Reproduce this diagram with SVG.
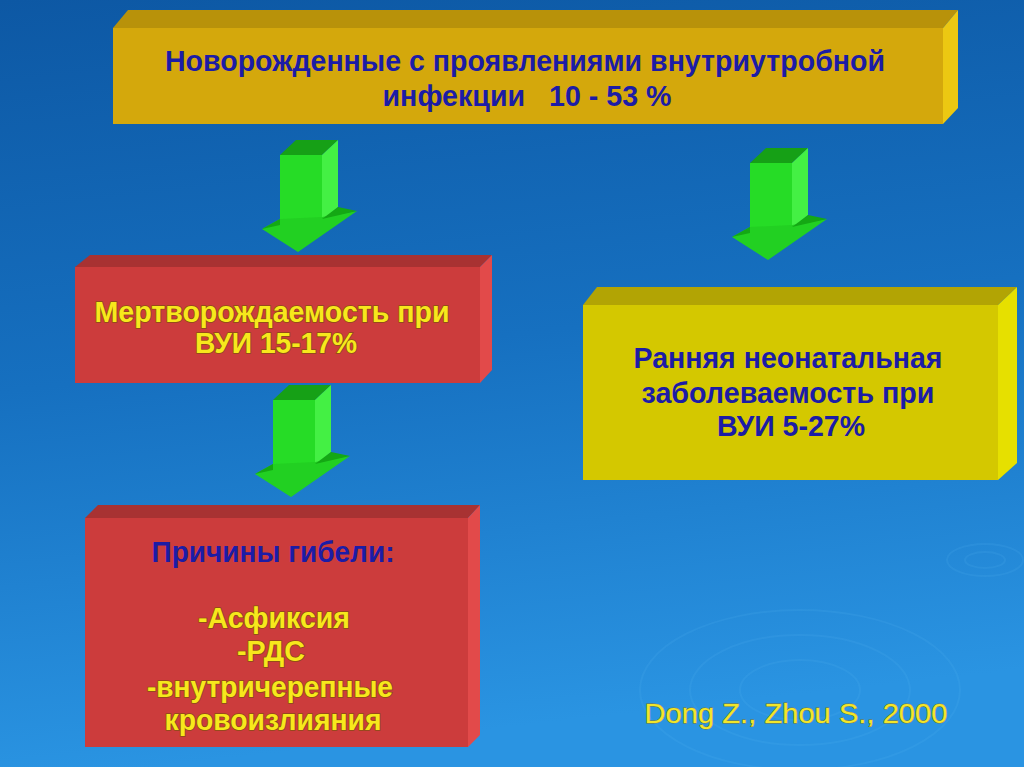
<svg xmlns="http://www.w3.org/2000/svg" width="1024" height="767" viewBox="0 0 1024 767">
<defs>
<linearGradient id="bg" x1="0" y1="0" x2="0.15" y2="1">
<stop offset="0" stop-color="#0d58a4"/>
<stop offset="0.5" stop-color="#1670c0"/>
<stop offset="1" stop-color="#2a94e2"/>
</linearGradient>
<g id="arrow">
<polygon points="0,0 16,-15 58,-15 42,0" fill="#16a016"/>
<polygon points="42,0 58,-15 58,52 42,66" fill="#44f044"/>
<rect x="0" y="0" width="42" height="68" fill="#26dc26"/>
<polygon points="-18,74 0,64 42,62 77,56 18,97" fill="#22d022"/>
<polygon points="-18,74 0,64 0,70" fill="#14a814"/>
<polygon points="42,64 58,52 77,56" fill="#14a814"/>
</g>
</defs>
<style>
.blue{font-family:"Liberation Sans",Arial,sans-serif;font-weight:bold;fill:#1c1ca6;text-anchor:middle;white-space:pre}
.yel{font-family:"Liberation Sans",Arial,sans-serif;font-weight:bold;fill:#f7e81c;stroke:#8c4c12;stroke-width:1.6;paint-order:stroke;text-anchor:middle}
</style>
<rect width="1024" height="767" fill="url(#bg)"/>
<g fill="none" stroke="#5ab4f4" stroke-opacity="0.15" stroke-width="2">
<ellipse cx="985" cy="560" rx="20" ry="8"/>
<ellipse cx="985" cy="560" rx="38" ry="16"/>
<ellipse cx="800" cy="690" rx="60" ry="30"/>
<ellipse cx="800" cy="690" rx="110" ry="55"/>
<ellipse cx="800" cy="690" rx="160" ry="80"/>
</g>

<g id="node-top">
<polygon points="113,28 128,10 958,10 943,28" fill="#b8920a"/>
<polygon points="943,28 958,10 958,108 943,124" fill="#ecc812"/>
<rect x="113" y="28" width="830" height="96" fill="#d4a80c"/>
<text class="blue" x="525" y="71" font-size="29" textLength="720" lengthAdjust="spacingAndGlyphs">Новорожденные с проявлениями внутриутробной</text>
<text class="blue" x="527" y="106" font-size="29" textLength="289" lengthAdjust="spacingAndGlyphs">инфекции   10 - 53 %</text>
</g>

<g id="node-stillbirth">
<polygon points="75,267 90,255 492,255 480,267" fill="#a83232"/>
<polygon points="480,267 492,255 492,370 480,383" fill="#e24a4a"/>
<rect x="75" y="267" width="405" height="116" fill="#cc3c3c"/>
<text class="yel" x="272" y="322" font-size="30" textLength="355" lengthAdjust="spacingAndGlyphs">Мертворождаемость при</text>
<text class="yel" x="276" y="353" font-size="30" textLength="162" lengthAdjust="spacingAndGlyphs">ВУИ 15-17%</text>
</g>

<g id="node-morbidity">
<polygon points="583,305 597,287 1017,287 998,305" fill="#b2a404"/>
<polygon points="998,305 1017,287 1017,463 998,480" fill="#e6e000"/>
<rect x="583" y="305" width="415" height="175" fill="#d4c800"/>
<text class="blue" x="788" y="368" font-size="30" textLength="309" lengthAdjust="spacingAndGlyphs">Ранняя неонатальная</text>
<text class="blue" x="788" y="403" font-size="30" textLength="293" lengthAdjust="spacingAndGlyphs">заболеваемость при</text>
<text class="blue" x="791" y="436" font-size="30" textLength="148" lengthAdjust="spacingAndGlyphs">ВУИ 5-27%</text>
</g>

<g id="node-causes">
<polygon points="85,518 98,505 480,505 468,518" fill="#a83232"/>
<polygon points="468,518 480,505 480,735 468,747" fill="#e24a4a"/>
<rect x="85" y="518" width="383" height="229" fill="#cc3c3c"/>
<text class="blue" x="273" y="562" font-size="29" textLength="243" lengthAdjust="spacingAndGlyphs">Причины гибели:</text>
<text class="yel" x="274" y="628" font-size="29" textLength="152" lengthAdjust="spacingAndGlyphs">-Асфиксия</text>
<text class="yel" x="271" y="661" font-size="29" textLength="68" lengthAdjust="spacingAndGlyphs">-РДС</text>
<text class="yel" x="270" y="697" font-size="29" textLength="246" lengthAdjust="spacingAndGlyphs">-внутричерепные</text>
<text class="yel" x="273" y="730" font-size="29" textLength="217" lengthAdjust="spacingAndGlyphs">кровоизлияния</text>
</g>

<g id="connectors">
<use href="#arrow" x="280" y="155"/>
<use href="#arrow" x="273" y="400"/>
<use href="#arrow" x="750" y="163"/>
</g>

<g id="credit">
<text x="796" y="723" font-family="Liberation Sans, Arial, sans-serif" font-size="28" fill="#f2e62a" stroke="#8c7a20" stroke-width="0.8" paint-order="stroke" text-anchor="middle" textLength="303" lengthAdjust="spacingAndGlyphs">Dong Z., Zhou S., 2000</text>
</g>
</svg>
